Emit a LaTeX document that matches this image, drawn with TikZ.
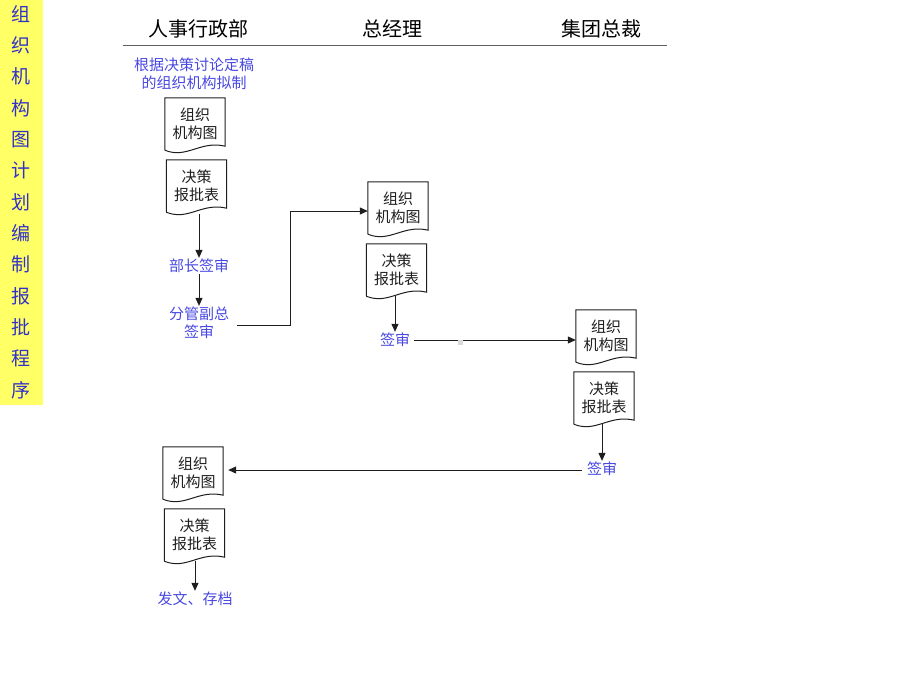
\documentclass[tikz,border=0pt]{standalone}
\usepackage{fontspec}
\setmainfont{Noto Sans CJK SC}
\usetikzlibrary{arrows.meta,calc}
\definecolor{lblue}{RGB}{72,72,225}
\definecolor{barblue}{RGB}{50,50,200}
\definecolor{baryellow}{RGB}{255,255,102}
\definecolor{ink}{RGB}{30,30,30}
\tikzset{
  docbox/.style={rectangle,minimum width=60pt,minimum height=52pt,inner sep=0pt,align=center,
    font=\fontsize{15}{18}\selectfont,text=ink},
  lbl/.style={inner sep=1pt,align=center,font=\fontsize{15}{18}\selectfont,text=lblue},
  head/.style={inner sep=0pt,font=\fontsize{20}{24}\selectfont,text=black},
  conn/.style={draw=ink,line width=1pt,-{Triangle[length=8pt,width=7pt]}},
  plain/.style={draw=ink,line width=1pt},
  barch/.style={inner sep=0pt,font=\fontsize{19}{20}\selectfont,text=barblue}
}
\newcommand\docoutline[1]{%
  \draw[ink,line width=1pt] (#1.south west) -- (#1.north west) -- (#1.north east) -- ($(#1.south east)+(0,-4)$)
    .. controls ($(#1.south east)+(-25,-10)$) and ($(#1.south west)+(22,9)$) .. ($(#1.south west)$);}
\begin{document}
\begin{tikzpicture}[x=1pt,y=-1pt]
\useasboundingbox (0,0) rectangle (920,690);
% left bar
\fill[baryellow] (0,0) rectangle (43,405);
\foreach \c [count=\i from 0] in {组,织,机,构,图,计,划,编,制,报,批,程,序}
  \node[barch] (v\i) at (21,{14+31.33*\i}) {\c};
% header
\node[head] (h1) at (198,29) {人事行政部};
\node[head] (h2) at (392,29) {总经理};
\node[head] (h3) at (601,29) {集团总裁};
\coordinate (hl) at (123,45.5);
\coordinate (hr) at (667,45.5);
\draw[gray!75!black,line width=1.6pt] (hl) -- (hr);
% intro text
\node[lbl] (t0) at (194,74) {根据决策讨论定稿\\的组织机构拟制};
% boxes
\node[docbox] (a1) at (195,124) {组织\\机构图};
\node[docbox] (a2) at (196.5,186) {决策\\报批表};
\node[docbox] (b1) at (398,208) {组织\\机构图};
\node[docbox] (b2) at (396.5,270) {决策\\报批表};
\node[docbox] (c1) at (606,336) {组织\\机构图};
\node[docbox] (c2) at (604,398) {决策\\报批表};
\node[docbox] (d1) at (193,473) {组织\\机构图};
\node[docbox] (d2) at (194.5,535) {决策\\报批表};
\foreach \n in {a1,a2,b1,b2,c1,c2,d1,d2} {\docoutline{\n}}
% labels
\node[lbl] (l1) at (199,266) {部长签审};
\node[lbl] (l2) at (199,323) {分管副总\\签审};
\node[lbl] (l3) at (395,340) {签审};
\node[lbl] (l4) at (602,469) {签审};
\node[lbl] (l5) at (195,599) {发文、存档};
% connectors
\draw[conn] ($(a2.south -| l1)+(0,2)$) -- (l1.north);
\draw[conn] (l1.south) -- (l2.north);
\draw[conn] ([xshift=7pt,yshift=-2pt]l2.east) -- ++(53,0) |- ([yshift=-3pt]b1.west);
\draw[conn] (b2.south -| l3) -- (l3.north);
\draw[conn] ([xshift=3pt]l3.east) -- (l3.east -| c1.west);
\draw[conn] (c2.south -| l4) -- (l4.north);
\draw[conn,shorten >=5pt] ([xshift=-4pt,yshift=-1pt]l4.west) -- ([yshift=-1pt]l4.west -| d1.east);
\draw[conn] (d2.south -| l5) -- (l5.north);
\fill[gray!30] (458,340) rectangle (463,345);
\end{tikzpicture}
\end{document}
